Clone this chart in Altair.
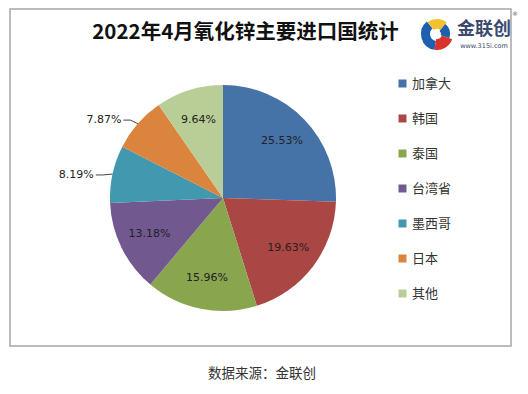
import altair as alt
import pandas as pd

categories = ["加拿大", "韩国", "泰国", "台湾省", "墨西哥", "日本", "其他"]
shares = [25.53, 19.63, 15.96, 13.18, 8.19, 7.87, 9.64]
colors = ["#4572A7", "#AA4643", "#89A54E", "#71588F", "#4198AF", "#DB843D", "#B9CD96"]

title_text = "2022年4月氧化锌主要进口国统计"
source_text = "数据来源：金联创"
logo_text = "金联创"
logo_url = "www.315i.com"

W, H = 501, 337
CX, CY = 213, 189   # pie centre inside the frame
R = 113
FONT = "Noto Sans CJK SC"

df = pd.DataFrame({"cat": categories, "pct": shares, "idx": list(range(len(categories)))})

xs = alt.Scale(domain=[-CX, W - CX])
ys = alt.Scale(domain=[CY - H, CY])
ts = alt.Scale(domain=[0, 100], range=[0, 6.283185307179586])

base = alt.Chart(df).transform_window(
    cum="sum(pct)", sort=[alt.SortField("idx")], frame=[None, 0]
).transform_calculate(
    t0="datum.cum - datum.pct",
    ang="2*PI*(datum.cum - datum.pct/2)/100",
    cx="0", cy="0",
    txt="format(datum.pct, '.2f') + '%'",
)

arcs = base.mark_arc(radius=R).encode(
    x=alt.X("cx:Q", scale=xs, axis=None),
    y=alt.Y("cy:Q", scale=ys, axis=None),
    theta=alt.Theta("t0:Q", scale=ts),
    theta2="cum:Q",
    color=alt.Color(
        "cat:N",
        scale=alt.Scale(domain=categories, range=colors),
        legend=alt.Legend(
            title=None, orient="none", legendX=386, legendY=68,
            symbolType="square", symbolSize=64, symbolStrokeWidth=0,
            labelFont=FONT, labelFontSize=13, labelColor="#333",
            rowPadding=21, padding=0, labelOffset=3,
        ),
    ),
)

inside = base.transform_filter("datum.pct >= 9").transform_calculate(
    lx="82*sin(datum.ang)", ly="82*cos(datum.ang)"
).mark_text(font="DejaVu Sans", fontSize=11, color="#222").encode(
    x=alt.X("lx:Q", scale=xs, axis=None),
    y=alt.Y("ly:Q", scale=ys, axis=None),
    text="txt:N",
)

outside = base.transform_filter("datum.pct < 9").transform_calculate(
    x0=f"{R}*sin(datum.ang)", y0=f"{R}*cos(datum.ang)",
    x1="123*sin(datum.ang)", y1="123*cos(datum.ang) - 3",
).transform_calculate(x2="datum.x1 - 7", y2="datum.y1")

lead1 = outside.mark_rule(color="#444", strokeWidth=1).encode(
    x=alt.X("x0:Q", scale=xs, axis=None), y=alt.Y("y0:Q", scale=ys, axis=None),
    x2="x1:Q", y2="y1:Q",
)
lead2 = outside.mark_rule(color="#444", strokeWidth=1).encode(
    x=alt.X("x1:Q", scale=xs, axis=None), y=alt.Y("y1:Q", scale=ys, axis=None),
    x2="x2:Q", y2="y2:Q",
)
out_text = outside.mark_text(font="DejaVu Sans", fontSize=11, color="#222",
                             align="right", dx=-2).encode(
    x=alt.X("x2:Q", scale=xs, axis=None), y=alt.Y("y2:Q", scale=ys, axis=None),
    text="txt:N",
)

one = pd.DataFrame({"t": [source_text]})
source = alt.Chart(one).mark_text(font=FONT, fontSize=13.5, color="#333").encode(
    text="t:N", x=alt.value(252), y=alt.value(365))

logo_df = pd.DataFrame({"t": [logo_text]})
logo = alt.Chart(logo_df).mark_text(font=FONT, fontSize=18, fontWeight="bold",
                                    color="#3b4a70").encode(
    text="t:N", x=alt.value(474), y=alt.value(21))
url_df = pd.DataFrame({"t": [logo_url]})
url = alt.Chart(url_df).mark_text(font="DejaVu Sans", fontSize=6.5, color="#3b4a70").encode(
    text="t:N", x=alt.value(474), y=alt.value(37))
reg = alt.Chart(pd.DataFrame({"t": ["®"]})).mark_text(font="DejaVu Sans", fontSize=6,
                                                     color="#555").encode(
    text="t:N", x=alt.value(505), y=alt.value(5))

icon_parts = [
    (3.3, 5.6, 16, 7, "#1f5fb0"),
    (5.6, 7.0, 15, 5, "#f2c12e"),
    (0.7, 1.9, 13, 4, "#1f5fb0"),
    (1.9, 3.3, 16, 5, "#d9322b"),
]
icon_layers = [
    alt.Chart(pd.DataFrame({"k": [1]})).mark_arc(
        theta=a, theta2=b, radius=ro, radius2=ri, color=c
    ).encode(x=alt.value(427), y=alt.value(25))
    for a, b, ro, ri, c in icon_parts
]

chart = alt.layer(
    arcs, inside, lead1, lead2, out_text, source, logo, url, reg, *icon_layers
).properties(
    width=W, height=H,
    title=alt.Title(title_text, font=FONT, fontSize=20.5, fontWeight="bold",
                    color="#111", anchor="middle", offset=-34, dx=-15),
    autosize=alt.AutoSizeParams(type="none"),
    padding={"left": 2, "top": 1, "right": 8, "bottom": 38},
).configure_view(stroke="#a6a6a6", strokeWidth=1.5)

chart.save("out.html", embed_options={"renderer": "svg", "actions": False})
